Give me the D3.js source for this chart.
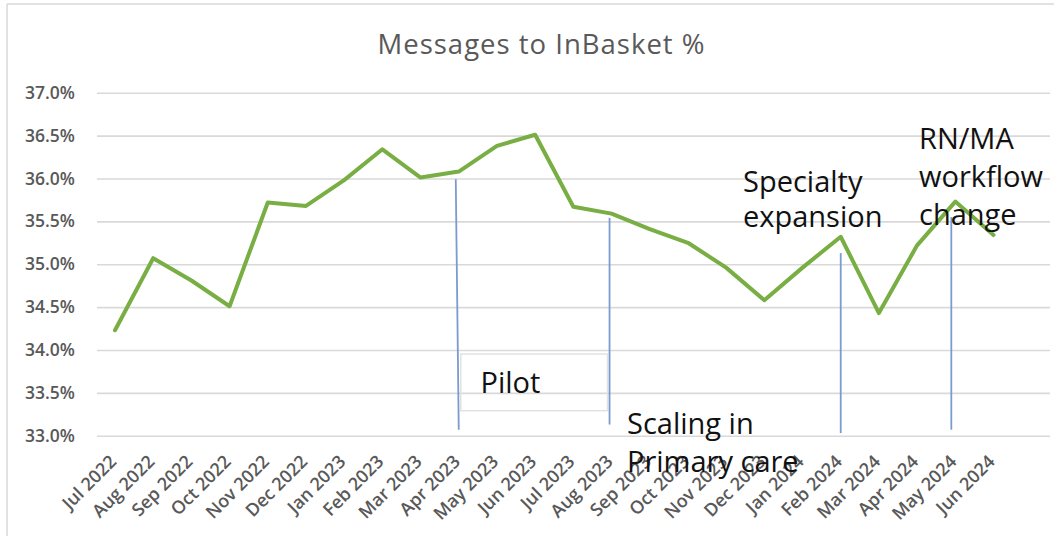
<!DOCTYPE html>
<html>
<head>
<meta charset="utf-8">
<script src="https://cdn.jsdelivr.net/npm/d3@7"></script>
<style>
  html, body { margin: 0; padding: 0; background: #fff; }
  svg { display: block; }
</style>
</head>
<body>
<svg id="chart" width="1054" height="536"></svg>
<script>
// Monthly share of messages routed to InBasket
const months = [
  "Jul 2022", "Aug 2022", "Sep 2022", "Oct 2022", "Nov 2022", "Dec 2022",
  "Jan 2023", "Feb 2023", "Mar 2023", "Apr 2023", "May 2023", "Jun 2023",
  "Jul 2023", "Aug 2023", "Sep 2023", "Oct 2023", "Nov 2023", "Dec 2023",
  "Jan 2024", "Feb 2024", "Mar 2024", "Apr 2024", "May 2024", "Jun 2024"
];
const inBasketPct = [
  34.23, 35.07, 34.81, 34.51, 35.72, 35.68,
  35.98, 36.34, 36.01, 36.08, 36.38, 36.51,
  35.67, 35.59, 35.41, 35.25, 34.96, 34.58,
  34.96, 35.32, 34.43, 35.22, 35.73, 35.34
];
const yTicks = [33.0, 33.5, 34.0, 34.5, 35.0, 35.5, 36.0, 36.5, 37.0];

// Program milestones: month, top and bottom of the marker line (in %)
const milestoneMonths = ["Apr 2023", "Aug 2023", "Feb 2024", "May 2024"];
const milestoneTop = [35.99, 35.54, 35.13, 35.55];
const milestoneBottom = [33.07, 33.13, 33.03, 33.07];
const milestoneLabels = [
  ["Pilot"],
  ["Scaling in", "Primary care"],
  ["Specialty", "expansion"],
  ["RN/MA", "workflow", "change"]
];

const svg = d3.select("#chart");
const W = 1054, H = 536;

const x = d3.scalePoint().domain(months).range([115, 993.5]);
const y = d3.scaleLinear().domain([33, 37]).range([435.7, 92.7]);

// chart frame
svg.append("line").attr("x1", 7).attr("x2", W).attr("y1", 4).attr("y2", 4)
  .attr("stroke", "#d9d9d9").attr("stroke-width", 1.5);
svg.append("line").attr("x1", 7).attr("x2", 7).attr("y1", 4).attr("y2", H)
  .attr("stroke", "#d9d9d9").attr("stroke-width", 1.5);

// title
svg.append("text")
  .attr("x", 541.5).attr("y", 53.5)
  .attr("text-anchor", "middle")
  .attr("font-family", "'Open Sans', sans-serif")
  .attr("font-size", 27.5)
  .attr("letter-spacing", 1)
  .attr("fill", "#595959")
  .text("Messages to InBasket %");

// y axis with gridlines
const yAxis = d3.axisLeft(y)
  .tickValues(yTicks)
  .tickSize(-(1050 - 97))
  .tickPadding(22)
  .tickFormat(d => d.toFixed(1) + "%");
const yg = svg.append("g").attr("transform", "translate(97,0)").call(yAxis);
yg.select(".domain").remove();
yg.selectAll(".tick line").attr("stroke", "#d9d9d9").attr("stroke-width", 1.6);
yg.selectAll(".tick text")
  .attr("fill", "#595959")
  .attr("font-family", "'Open Sans', sans-serif")
  .attr("font-weight", 600)
  .attr("font-size", 17.5);

// x axis labels, rotated
const xAxis = d3.axisBottom(x).tickSize(0).tickPadding(0);
const xg = svg.append("g").attr("transform", "translate(0,435.7)").call(xAxis);
xg.select(".domain").remove();
xg.selectAll(".tick text")
  .attr("fill", "#595959")
  .attr("font-family", "'Open Sans', sans-serif")
  .attr("font-weight", 600)
  .attr("font-size", 18)
  .attr("text-anchor", "end")
  .attr("dy", null)
  .attr("transform", "translate(2,27) rotate(-45)");

// Pilot period box
svg.append("rect")
  .attr("x", x("Apr 2023") + 2).attr("y", 354)
  .attr("width", x("Aug 2023") - x("Apr 2023") - 6).attr("height", 56.7)
  .attr("fill", "none").attr("stroke", "#e2e2e2").attr("stroke-width", 1.5);

// main series
const line = d3.line().x((d, i) => x(months[i])).y(d => y(d));
svg.append("path")
  .datum(inBasketPct)
  .attr("d", line)
  .attr("fill", "none")
  .attr("stroke", "#78ae43")
  .attr("stroke-width", 4)
  .attr("stroke-linejoin", "round")
  .attr("stroke-linecap", "round");

// milestone markers
const markerShift = [-3, -2, 0, -4];
milestoneMonths.forEach((m, i) => {
  svg.append("line")
    .attr("x1", x(m) + markerShift[i]).attr("x2", x(m) + markerShift[i] + (i === 0 ? 3 : 0))
    .attr("y1", y(milestoneTop[i])).attr("y2", y(milestoneBottom[i]))
    .attr("stroke", "#7b9bd0").attr("stroke-width", 1.8);
});

// milestone labels
const labelPos = [
  { x: 480.5, y: 392.5, lh: 38 },
  { x: 627, y: 434, lh: 38 },
  { x: 743, y: 192, lh: 35 },
  { x: 919, y: 149, lh: 38 }
];
milestoneLabels.forEach((lines, i) => {
  const t = svg.append("text")
    .attr("font-family", "'Open Sans', sans-serif")
    .attr("font-size", 29)
    .attr("fill", "#111");
  lines.forEach((s, j) => {
    t.append("tspan").attr("x", labelPos[i].x).attr("y", labelPos[i].y + j * labelPos[i].lh).text(s);
  });
});
</script>
</body>
</html>
